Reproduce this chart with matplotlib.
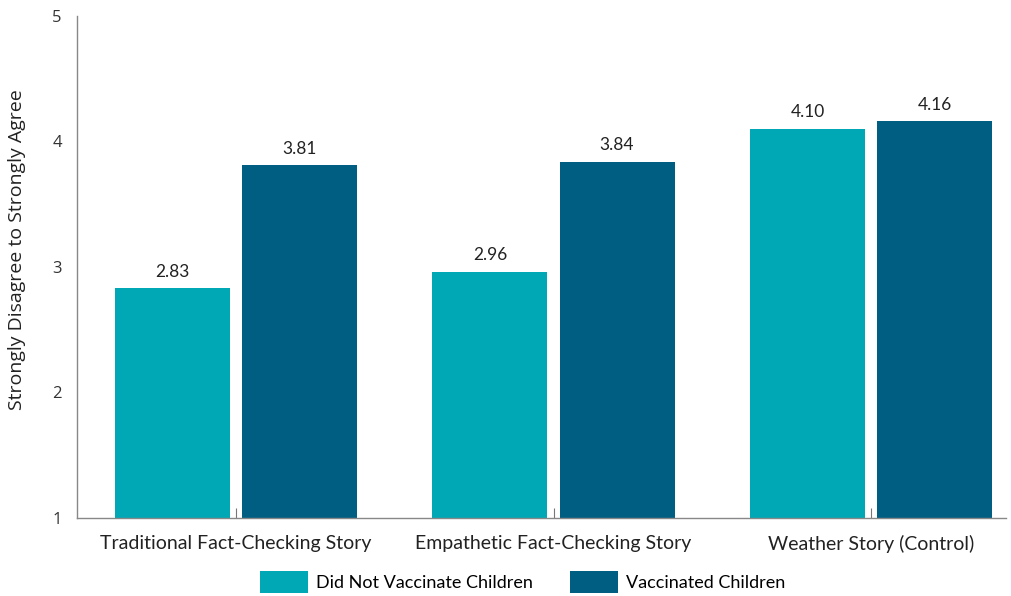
import numpy as np
import matplotlib.pyplot as plt

plt.rcParams['font.family'] = ['Lato', 'DejaVu Sans']

stories = ["Traditional Fact-Checking Story", "Empathetic Fact-Checking Story", "Weather Story (Control)"]
not_vacc = [2.83, 2.96, 4.10]
vacc = [3.81, 3.84, 4.16]
series_names = ["Did Not Vaccinate Children", "Vaccinated Children"]

c_light = "#00A8B6"
c_dark = "#005E82"

fig = plt.figure(figsize=(10.11, 5.96), dpi=100)
ax = fig.add_axes([0.0762, 0.1309, 0.919, 0.8423])

x = np.arange(len(stories))
w = 0.362
b1 = ax.bar(x - 0.2, np.array(not_vacc) - 1, w, bottom=1, color=c_light, label=series_names[0])
b2 = ax.bar(x + 0.2, np.array(vacc) - 1, w, bottom=1, color=c_dark, label=series_names[1])

for xs, vals in [(x - 0.2, not_vacc), (x + 0.2, vacc)]:
    for xi, v in zip(xs, vals):
        ax.text(xi, v + 0.07, "%.2f" % v, ha="center", va="bottom", fontsize=12.5, color="#222222")

ax.set_ylim(1, 5)
ax.set_xlim(-0.5, 2.425)
ax.set_yticks([1, 2, 3, 4, 5])
ax.set_xticks(x)
ax.set_xticklabels(stories, fontsize=14, color="#222222")
ax.set_yticklabels(["1", "2", "3", "4", "5"], family=["Open Sans", "DejaVu Sans"])
ax.tick_params(axis="y", length=0, pad=11, labelsize=12, labelcolor="#333333")
ax.tick_params(axis="x", direction="in", length=7, width=0.8, color="#777777", pad=12)
ax.set_ylabel("Strongly Disagree to Strongly Agree", fontsize=14, color="#222222",
              family=["Open Sans", "DejaVu Sans"])
ax.yaxis.set_label_coords(-0.055, 0.534)

for s in ["top", "right"]:
    ax.spines[s].set_visible(False)
for s in ["left", "bottom"]:
    ax.spines[s].set_color("#888888")
    ax.spines[s].set_linewidth(1)

fig.legend(handles=[b1, b2], loc="center", bbox_to_anchor=(0.517, 0.0235), ncol=2,
           frameon=False, fontsize=13, handlelength=2.65, handleheight=1.5,
           columnspacing=2.1, handletextpad=0.42, borderpad=0)

fig.savefig("out.png", dpi=100)
